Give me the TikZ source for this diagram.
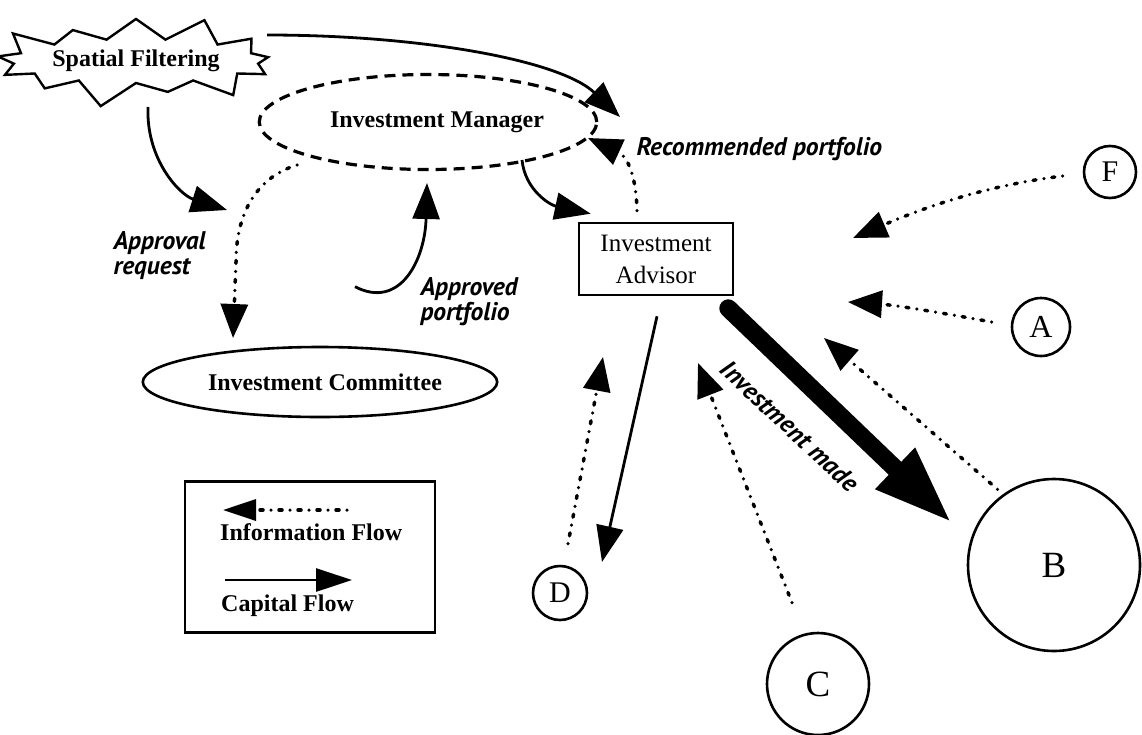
\documentclass[tikz,border=0pt]{standalone}
\usepackage{fontspec}
\setmainfont{Liberation Serif}
\newfontfamily\lblfont{PT Sans}
\usetikzlibrary{arrows.meta,shapes.geometric,shapes.symbols}
\begin{document}
\begin{tikzpicture}[x=1pt,y=-1pt,
  capital/.style={line width=2.8pt,-{Triangle[length=36pt,width=27pt]}},
  info/.style={line width=3.5pt,line cap=round,dash pattern=on 0pt off 8pt on 3pt off 8pt,-{Triangle[length=34pt,width=27pt]}},
  bfnt/.style={font=\fontsize{24}{28}\selectfont\bfseries},
  rfnt/.style={font=\fontsize{25}{32}\selectfont},
  lbl/.style={font=\lblfont\fontsize{25.5}{25}\selectfont\bfseries\itshape,align=left},
  letter/.style={circle,draw,line width=2.6pt,inner sep=0pt}]
\useasboundingbox (0,0) rectangle (1142,734);
% nodes
\node[starburst,draw,line width=2.4pt,minimum width=253pt,minimum height=100pt,starburst points=13,starburst point height=28pt,bfnt] (sf) at (136,61) {Spatial Filtering};
\node[ellipse,draw,line width=3.2pt,dash pattern=on 11pt off 7pt,minimum width=290pt,minimum height=95pt,bfnt] (im) at (428,122) {\hspace*{18pt}Investment Manager};
\node[ellipse,draw,line width=2.6pt,minimum width=284pt,minimum height=70pt,bfnt] (ic) at (320,382) {\hspace*{10pt}Investment Committee};
\node[rectangle,draw,line width=2.6pt,minimum width=154pt,minimum height=72pt,align=center,rfnt] (ia) at (656,259) {Investment\\Advisor};
\node[letter,minimum size=52pt,font=\fontsize{30}{30}\selectfont] (F) at (1110,172) {F};
\node[letter,minimum size=58pt,font=\fontsize{32}{32}\selectfont] (A) at (1041,327) {A};
\node[letter,minimum size=172pt,font=\fontsize{37}{37}\selectfont] (B) at (1054,565) {B};
\node[letter,minimum size=102pt,font=\fontsize{37}{37}\selectfont] (C) at (818,684) {C};
\node[letter,minimum size=54pt,font=\fontsize{30}{30}\selectfont] (D) at (560,593) {D};
% labels
\node[lbl,anchor=west] (rec) at (633,149) {Recommended portfolio};
\node[lbl,anchor=west] (areq) at (110,256) {Approval\\request};
\node[lbl,anchor=west] (aprt) at (417,302) {Approved\\portfolio};
\node[lbl,rotate=-43] (made) at (790,426) {Investment made};
% legend
\node[rectangle,draw,line width=2.4pt,minimum width=250pt,minimum height=151pt] (leg) at (310,557) {};
\node[bfnt,anchor=west,inner sep=0pt] (legi) at (220,532) {Information Flow};
\node[bfnt,anchor=west,inner sep=0pt] (legc) at (221,606) {Capital Flow};
\coordinate (li1) at (347,510); \coordinate (li2) at (223,510);
\coordinate (lc1) at (225,580); \coordinate (lc2) at (352,580);
\draw[info,-{Triangle[length=33pt,width=21pt]}] (li1) -- (li2);
\draw[capital,-{Triangle[length=36pt,width=23pt]}] (lc1) -- (lc2);
% free ends
\coordinate (t1) at (620,117);
\coordinate (t2) at (227,210);
\coordinate (t3) at (588,138);
\coordinate (t4) at (233,338);
\coordinate (t5) at (427,183);
\coordinate (tF) at (853,238);
\coordinate (tA) at (848,302);
\coordinate (tB) at (824,338);
\coordinate (tC) at (698,363);
\coordinate (tD) at (603,357);
\coordinate (tS) at (602,562);
\coordinate (tT) at (952,523);
% connectors
\draw[capital] ([shift={(131,-26)}]sf.center) .. controls (420,35) and (560,60) .. (t1);
\draw[capital] ([shift={(12,46)}]sf.center) .. controls (146,160) and (180,195) .. (t2);
\draw[capital] ([shift={(94,38)}]im.center) .. controls (525,190) and (550,205) .. ([shift={(13,-8)}]ia.north west);
\draw[info] ([shift={(-19,-11)}]ia.north) .. controls (636,170) and (625,155) .. (t3);
\draw[info] ([shift={(-131,43)}]im.center) .. controls (255,178) and (236,215) .. (236,262) -- (t4);
\draw[capital] ([shift={(35,-59)}]ic.north) .. controls (400,310) and (425,260) .. (t5);
\draw[info] ([shift={(-20,4)}]F.west) .. controls (990,185) and (930,205) .. (tF);
\draw[info] ([shift={(-19,-5)}]A.west) .. controls (943,313) and (894,305) .. (tA);
\draw[info] ([shift={(-4,-6)}]B.127) -- (tB);
\draw[info] ([shift={(-26,-29)}]C.north) -- (tC);
\draw[info] ([shift={(8,-21)}]D.north) -- (tD);
\draw[capital] ([shift={(1,20)}]ia.south) -- (tS);
\draw[line width=18pt,line cap=round,-{Triangle[length=79pt,width=52pt]}] ([shift={(-6,12)}]ia.south east) -- (tT);
\end{tikzpicture}
\end{document}
